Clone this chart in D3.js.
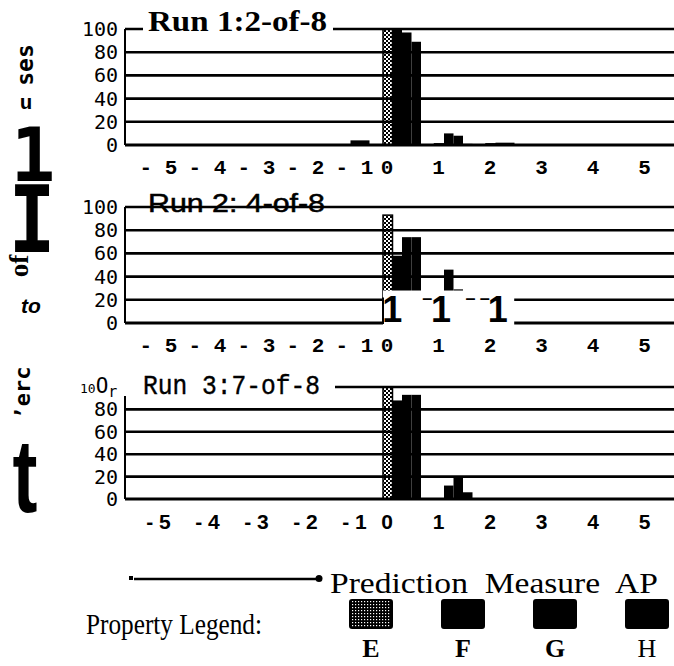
<!DOCTYPE html>
<html><head><meta charset="utf-8">
<script src="https://cdn.jsdelivr.net/npm/d3@7"></script>
<style>html,body{margin:0;padding:0;background:#fff;}svg{display:block;}</style>
</head><body>
<script>
// ---------- data ----------
const bins = [-1, 0, 1, 2];
const properties = ["E", "F", "G", "H"];
const xTickValues = [-5, -4, -3, -2, -1, 0, 1, 2, 3, 4, 5];
const yTickValues = [0, 20, 40, 60, 80, 100];

const run1E = [0, 100, 1, 1];
const run1F = [0, 100, 10, 2];
const run1G = [4, 97, 8, 2];
const run1H = [4, 89, 1, 0];

const run2E = [0, 93, 0, 0];
const run2F = [0, 58, 46, 0];
const run2G = [0, 74, 29, 0];
const run2H = [0, 74, 0, 0];

const run3E = [0, 100, 0, 0];
const run3F = [0, 88, 12, 0];
const run3G = [0, 93, 19, 0];
const run3H = [0, 93, 6, 0];

const runTitles = ["Run 1:2-of-8", "Run 2: 4-of-8", "Run 3:7-of-8"];
const axisTitle = "Prediction\u00A0 Measure\u00A0 AP";
const legendTitle = "Property Legend:";

// ---------- layout ----------
const W = 674, H = 666;
const svg = d3.select("body").append("svg").attr("width", W).attr("height", H);
const defs = svg.append("defs");
const pat = defs.append("pattern").attr("id", "checker").attr("patternUnits", "userSpaceOnUse")
  .attr("width", 4).attr("height", 4);
pat.append("rect").attr("width", 4).attr("height", 4).attr("fill", "#000");
pat.append("rect").attr("x", 0).attr("y", 0).attr("width", 2).attr("height", 2).attr("fill", "#fff");
pat.append("rect").attr("x", 2).attr("y", 2).attr("width", 2).attr("height", 2).attr("fill", "#fff");
const pat2 = defs.append("pattern").attr("id", "dots").attr("patternUnits", "userSpaceOnUse")
  .attr("width", 3).attr("height", 3);
pat2.append("rect").attr("width", 3).attr("height", 3).attr("fill", "#000");
pat2.append("rect").attr("x", 1).attr("y", 1).attr("width", 1.2).attr("height", 1.2).attr("fill", "#fff");

const x = d3.scaleLinear().domain([-5, 5]).range([129.5, 644.5]);
// negative tick labels in the scan are squeezed towards zero
const xNegLabel = d3.scaleLinear().domain([-5, -1]).range([x(-5) + 29, x(-1) + 19]);
const axisLeftX = 125;
const groupOffset = -4;
const inner = d3.scaleBand().domain(properties).range([0, 38]);

const panels = [
  { y0: 145, y100: 29, data: [run1E, run1F, run1G, run1H], title: runTitles[0], tickFont: "mono", tickY: 174 },
  { y0: 323, y100: 207, data: [run2E, run2F, run2G, run2H], title: runTitles[1], tickFont: "mono", tickY: 352 },
  { y0: 499, y100: 387, data: [run3E, run3F, run3G, run3H], title: runTitles[2], tickFont: "sans", tickY: 529 }
];

panels.forEach((p, pi) => {
  const y = d3.scaleLinear().domain([0, 100]).range([p.y0, p.y100]);
  const g = svg.append("g");

  // bars
  properties.forEach((prop, si) => {
    g.selectAll(null).data(bins.map((b, i) => ({ b, v: p.data[si][i] })).filter(d => d.v > 0))
      .enter().append("rect")
      .attr("x", d => x(d.b) + groupOffset + inner(prop))
      .attr("width", inner.bandwidth())
      .attr("y", d => y(d.v))
      .attr("height", d => y(0) - y(d.v))
      .attr("fill", prop === "E" ? "url(#checker)" : "#000")
      .attr("stroke", prop === "E" ? "#000" : "none")
      .attr("stroke-width", 1.5);
  });

  // gridlines
  yTickValues.forEach(v => {
    let x1 = axisLeftX;
    if (pi === 2 && v === 100) x1 = 335;
    g.append("line").attr("x1", x1).attr("x2", W).attr("y1", y(v)).attr("y2", y(v))
      .attr("stroke", "#000").attr("stroke-width", v === 0 ? 3 : 2.6);
  });
  // left axis
  g.append("line").attr("x1", axisLeftX).attr("x2", axisLeftX)
    .attr("y1", pi === 2 ? y(92) : y(100)).attr("y2", y(0))
    .attr("stroke", "#000").attr("stroke-width", 2);

  // y tick labels
  yTickValues.forEach(v => {
    if (pi === 2 && v === 100) {
      const t = g.append("text").attr("x", 80).attr("y", y(100) + 6)
        .attr("font-family", "DejaVu Sans Mono").attr("fill", "#000");
      t.append("tspan").attr("font-size", 13).text("10");
      t.append("tspan").attr("font-size", 21).text("O");
      t.append("tspan").attr("font-size", 15).attr("dy", 4).text("r");
      return;
    }
    g.append("text").attr("x", 118).attr("y", y(v) + 7)
      .attr("text-anchor", "end").attr("font-family", "DejaVu Sans Mono")
      .attr("font-size", 20).attr("fill", "#000").text(v);
  });

  // x tick labels
  xTickValues.forEach(v => {
    const label = v < 0 ? "- " + (-v) : String(v);
    const xx = v < 0 ? xNegLabel(v) : x(v);
    g.append("text").attr("x", xx).attr("y", p.tickY)
      .attr("text-anchor", "middle")
      .attr("font-family", p.tickFont === "mono" ? "Liberation Mono" : "Liberation Sans")
      .attr("font-weight", "bold").attr("font-size", p.tickFont === "mono" ? 21 : 21)
      .attr("fill", "#000").style("white-space", "pre").text(label);
  });

  // titles
  if (pi === 0) {
    g.append("rect").attr("x", 143).attr("y", 4).attr("width", 190).attr("height", 30).attr("fill", "#fff");
    g.append("text").attr("x", 148).attr("y", 31).attr("font-family", "Liberation Serif")
      .attr("font-weight", "bold").attr("font-size", 29).attr("textLength", 179)
      .attr("lengthAdjust", "spacingAndGlyphs").attr("fill", "#000").text(p.title);
  } else if (pi === 1) {
    g.append("rect").attr("x", 143).attr("y", 188).attr("width", 193).attr("height", 17).attr("fill", "#fff");
    g.append("text").attr("x", 148).attr("y", 212).attr("font-family", "Liberation Sans")
      .attr("font-size", 25).attr("textLength", 177).attr("stroke", "#000").attr("stroke-width", 0.5)
      .attr("lengthAdjust", "spacingAndGlyphs").attr("fill", "#000").text(p.title);
  } else {
    g.append("text").attr("x", 143).attr("y", 394).attr("font-family", "Liberation Mono")
      .attr("font-size", 27).attr("textLength", 177).attr("stroke", "#000").attr("stroke-width", 0.4)
      .attr("lengthAdjust", "spacingAndGlyphs").attr("fill", "#000").text(p.title);
  }

  // scanning artifact in run 2: white patch with "1" glyphs
  if (pi === 1) {
    const bx0 = x(0) + groupOffset, bx1 = x(2.47);
    g.append("rect").attr("x", bx0).attr("y", y(28)).attr("width", bx1 - bx0)
      .attr("height", y(0) - y(28) + 3).attr("fill", "#fff");
    g.append("line").attr("x1", bx0).attr("x2", bx0).attr("y1", y(22)).attr("y2", y(0) + 1)
      .attr("stroke", "#000").attr("stroke-width", 2);
    const glyphs = [
      { t: "1", v: 0.1, s: 36, dy: 0 },
      { t: "\u2013", v: 0.78, s: 18, dy: -18 },
      { t: "1", v: 1.05, s: 36, dy: 0 },
      { t: "\u2013", v: 1.62, s: 18, dy: -18 },
      { t: "\u2013", v: 1.9, s: 18, dy: -18 },
      { t: "1", v: 2.15, s: 36, dy: 0 }
    ];
    const gt = g.append("text").attr("text-anchor", "middle").attr("font-family", "Liberation Sans")
      .attr("font-weight", "bold").attr("fill", "#000");
    glyphs.forEach(d => {
      gt.append("tspan").attr("x", x(d.v)).attr("y", y(0) - 1 + d.dy)
        .attr("font-size", d.s).text(d.t);
    });
  }
});

// ---------- scan artifacts on left ----------
const art = svg.append("g").attr("fill", "#000");
art.append("text").attr("transform", "translate(25,65) rotate(-90)").attr("text-anchor", "middle")
  .attr("dominant-baseline", "central").attr("font-family", "DejaVu Sans Mono").attr("font-weight", "bold")
  .attr("font-size", 23).text("ses");
art.append("text").attr("x", 26).attr("y", 109).attr("text-anchor", "middle")
  .attr("font-family", "Liberation Mono").attr("font-weight", "bold").attr("font-size", 21).text("u");
art.append("text").attr("x", 33).attr("y", 181).attr("text-anchor", "middle")
  .attr("font-family", "DejaVu Sans Mono").attr("font-weight", "bold").attr("font-size", 74).text("1");
art.append("text").attr("transform", "translate(32,252) scale(0.85,1)").attr("text-anchor", "middle")
  .attr("font-family", "DejaVu Sans Mono").attr("font-weight", "bold").attr("font-size", 92).text("I");
art.append("text").attr("transform", "translate(19,266) rotate(-90)").attr("text-anchor", "middle")
  .attr("dominant-baseline", "central").attr("font-family", "Liberation Serif").attr("font-weight", "bold")
  .attr("font-size", 27).text("of");
art.append("text").attr("x", 31).attr("y", 313).attr("text-anchor", "middle")
  .attr("font-family", "Liberation Sans").attr("font-weight", "bold").attr("font-style", "italic")
  .attr("font-size", 21).text("to");
art.append("text").attr("transform", "translate(22,393) rotate(-90)").attr("text-anchor", "middle")
  .attr("dominant-baseline", "central").attr("font-family", "DejaVu Sans Mono").attr("font-weight", "bold")
  .attr("font-size", 22).text("\u2019erc");
art.append("text").attr("transform", "translate(25,512) scale(0.72,1)").attr("text-anchor", "middle")
  .attr("font-family", "Liberation Sans").attr("font-weight", "bold").attr("font-size", 104).text("t");

// ---------- axis title ----------
svg.append("rect").attr("x", 129).attr("y", 576).attr("width", 4).attr("height", 4).attr("fill", "#000");
svg.append("line").attr("x1", 134).attr("x2", 316).attr("y1", 579).attr("y2", 579)
  .attr("stroke", "#000").attr("stroke-width", 2.5);
svg.append("circle").attr("cx", 319).attr("cy", 578.5).attr("r", 3.5).attr("fill", "#000");
svg.append("text").attr("x", 330).attr("y", 593).attr("font-family", "Liberation Serif")
  .attr("font-size", 29).attr("textLength", 328).attr("lengthAdjust", "spacingAndGlyphs")
  .style("white-space", "pre").attr("fill", "#000").text(axisTitle);

// ---------- legend ----------
svg.append("text").attr("x", 86).attr("y", 634).attr("font-family", "Liberation Serif")
  .attr("font-size", 29).attr("textLength", 176).attr("lengthAdjust", "spacingAndGlyphs")
  .attr("fill", "#000").text(legendTitle);
const legendX = d3.scalePoint().domain(properties).range([371, 647]);
properties.forEach(prop => {
  svg.append("rect").attr("x", legendX(prop) - 21).attr("y", 600).attr("width", 42).attr("height", 28)
    .attr("rx", 2).attr("fill", prop === "E" ? "url(#dots)" : "#000")
    .attr("stroke", "#000").attr("stroke-width", 2);
  svg.append("text").attr("x", legendX(prop)).attr("y", 657).attr("text-anchor", "middle")
    .attr("font-family", "Liberation Serif").attr("font-weight", prop === "H" ? "normal" : "bold")
    .attr("font-size", 26).attr("fill", "#000").text(prop);
});
</script>
</body></html>
